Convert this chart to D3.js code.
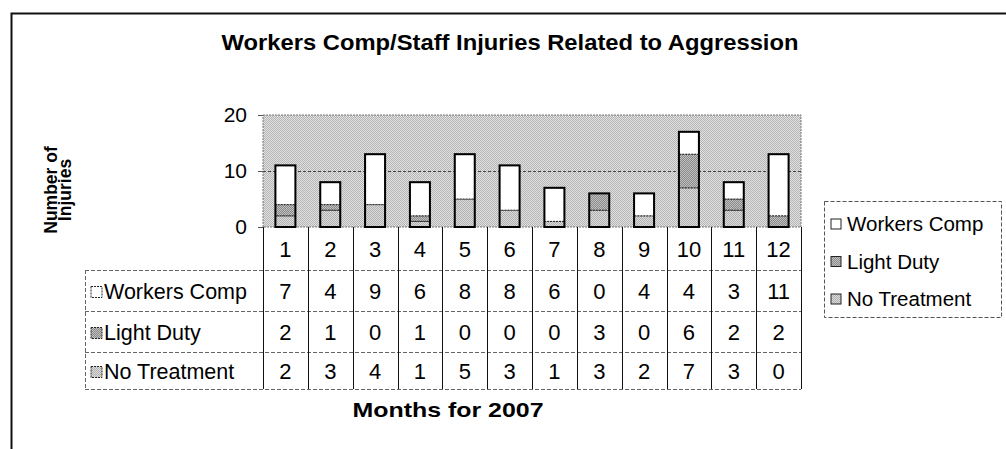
<!DOCTYPE html>
<html>
<head>
<meta charset="utf-8">
<script src="https://cdn.jsdelivr.net/npm/d3@7"></script>
<style>
body { margin: 0; background: #fff; }
svg { display: block; font-family: "Liberation Sans", Arial, sans-serif; }
</style>
</head>
<body>
<div id="chart"></div>
<script>
// data
var months = ["1", "2", "3", "4", "5", "6", "7", "8", "9", "10", "11", "12"];
var workersComp = [7, 4, 9, 6, 8, 8, 6, 0, 4, 4, 3, 11];
var lightDuty = [2, 1, 0, 1, 0, 0, 0, 3, 0, 6, 2, 2];
var noTreatment = [2, 3, 4, 1, 5, 3, 1, 3, 2, 7, 3, 0];
var seriesNames = ["Workers Comp", "Light Duty", "No Treatment"];
var yTicks = [0, 10, 20];

var W = 1006, H = 449;
var svg = d3.select("#chart").append("svg")
  .attr("width", W).attr("height", H);

// halftone-ish patterns
var defs = svg.append("defs");
function pat(id, a, b) {
  var p = defs.append("pattern").attr("id", id)
    .attr("width", 2).attr("height", 2)
    .attr("patternUnits", "userSpaceOnUse");
  p.append("rect").attr("width", 2).attr("height", 2).attr("fill", a);
  p.append("rect").attr("width", 1).attr("height", 1).attr("fill", b);
  p.append("rect").attr("x", 1).attr("y", 1).attr("width", 1).attr("height", 1).attr("fill", b);
}
pat("bgPat", "#e2e2e2", "#b4b4b4");
pat("ldPat", "#8a8a8a", "#c0c0c0");
pat("ntPat", "#dcdcdc", "#b0b0b0");
var fills = { "Workers Comp": "#ffffff", "Light Duty": "url(#ldPat)", "No Treatment": "url(#ntPat)" };

// outer frame
svg.append("path")
  .attr("d", "M11.5,449 L11.5,13.5 L1006,13.5")
  .attr("fill", "none").attr("stroke", "#111").attr("stroke-width", 2);

svg.append("text")
  .attr("x", 510).attr("y", 50)
  .attr("text-anchor", "middle")
  .attr("font-size", 22).attr("font-weight", "bold")
  .attr("textLength", 577).attr("lengthAdjust", "spacingAndGlyphs")
  .text("Workers Comp/Staff Injuries Related to Aggression");

var mrg = { left: 263, right: 801, top: 115, bottom: 227 };

var xScale = d3.scaleBand().domain(months)
  .range([mrg.left, mrg.right]).paddingInner(0).paddingOuter(0);
var yScale = d3.scaleLinear().domain([0, 20]).range([mrg.bottom, mrg.top]);

var chart = svg.append("g");

chart.append("rect")
  .attr("x", mrg.left).attr("y", mrg.top)
  .attr("width", mrg.right - mrg.left).attr("height", mrg.bottom - mrg.top)
  .attr("fill", "url(#bgPat)")
  .attr("stroke", "#777").attr("stroke-dasharray", "2,1");

// gridline at 10
chart.append("line")
  .attr("x1", mrg.left).attr("x2", mrg.right)
  .attr("y1", yScale(10) + 0.5).attr("y2", yScale(10) + 0.5)
  .attr("stroke", "#444").attr("stroke-dasharray", "3,2");

var y_axis = d3.axisLeft(yScale).tickValues(yTicks).tickSize(5).tickPadding(11);
var yg = chart.append("g")
  .attr("transform", "translate(" + mrg.left + ",0)")
  .call(y_axis);
yg.select(".domain").remove();
yg.selectAll("text").attr("font-size", 21).attr("fill", "#000").attr("font-family", "Liberation Sans, Arial, sans-serif");
yg.selectAll("line").attr("stroke", "#555");

// stacked bars
var rows = months.map(function (m, i) {
  return { month: m, "No Treatment": noTreatment[i], "Light Duty": lightDuty[i], "Workers Comp": workersComp[i] };
});
var stack = d3.stack().keys(["No Treatment", "Light Duty", "Workers Comp"]);
var layers = stack(rows);
var barW = 20;

layers.forEach(function (layer) {
  chart.append("g").selectAll("rect")
    .data(layer.filter(function (d) { return d[1] > d[0]; }))
    .enter().append("rect")
    .attr("x", function (d) { return xScale(d.data.month) + xScale.bandwidth() / 2 - barW / 2; })
    .attr("y", function (d) { return yScale(d[1]); })
    .attr("width", barW)
    .attr("height", function (d) { return yScale(d[0]) - yScale(d[1]); })
    .attr("fill", fills[layer.key])
    .attr("stroke", "#222").attr("stroke-width", 1).attr("stroke-dasharray", "2,1");
});
// bar outline
chart.append("g").selectAll("rect")
  .data(rows)
  .enter().append("rect")
  .attr("x", function (d) { return xScale(d.month) + xScale.bandwidth() / 2 - barW / 2; })
  .attr("y", function (d) { return yScale(d["No Treatment"] + d["Light Duty"] + d["Workers Comp"]); })
  .attr("width", barW)
  .attr("height", function (d) { return yScale(0) - yScale(d["No Treatment"] + d["Light Duty"] + d["Workers Comp"]); })
  .attr("fill", "none").attr("stroke", "#000").attr("stroke-width", 2);

// data table
var tLeft = 85;
var rowLines = [227, 270, 311, 352, 389];
var table = svg.append("g").attr("font-size", 22);

function rowMid(r) { return (rowLines[r] + rowLines[r + 1]) / 2; }

// month row
table.selectAll("text.month")
  .data(months).enter().append("text")
  .attr("class", "month")
  .attr("x", function (d) { return xScale(d) + xScale.bandwidth() / 2; })
  .attr("y", rowMid(0) + 8)
  .attr("text-anchor", "middle")
  .text(function (d) { return d; });

var seriesVals = [workersComp, lightDuty, noTreatment];
seriesNames.forEach(function (name, r) {
  var cy = rowMid(r + 1);
  table.append("line")
    .attr("x1", tLeft).attr("x2", mrg.right)
    .attr("y1", rowLines[r + 1] + 0.5).attr("y2", rowLines[r + 1] + 0.5)
    .attr("stroke", "#666").attr("stroke-dasharray", "4,2");
  table.append("rect")
    .attr("x", tLeft + 6).attr("y", cy - 4)
    .attr("width", 11).attr("height", 11)
    .attr("fill", fills[name]).attr("stroke", "#222").attr("stroke-dasharray", "2,1");
  table.append("text")
    .attr("x", tLeft + 19).attr("y", cy + 8)
    .attr("font-size", 21.5)
    .text(name);
  table.selectAll("text.v" + r)
    .data(seriesVals[r]).enter().append("text")
    .attr("x", function (d, i) { return xScale(months[i]) + xScale.bandwidth() / 2; })
    .attr("y", cy + 8)
    .attr("text-anchor", "middle")
    .text(function (d) { return d; });
});
var tBottom = rowLines[4];
table.append("line")
  .attr("x1", tLeft).attr("x2", mrg.right)
  .attr("y1", tBottom + 0.5).attr("y2", tBottom + 0.5)
  .attr("stroke", "#666").attr("stroke-dasharray", "4,2");
table.append("line")
  .attr("x1", tLeft + 0.5).attr("x2", tLeft + 0.5)
  .attr("y1", rowLines[1]).attr("y2", tBottom)
  .attr("stroke", "#666").attr("stroke-dasharray", "4,2");
// vertical column lines
var colEdges = months.map(function (m) { return xScale(m); }).concat([mrg.right]);
table.selectAll("line.col")
  .data(colEdges).enter().append("line")
  .attr("x1", function (d) { return Math.round(d) + 0.5; })
  .attr("x2", function (d) { return Math.round(d) + 0.5; })
  .attr("y1", rowLines[0]).attr("y2", tBottom)
  .attr("stroke", "#111");

// axis titles
svg.append("text")
  .attr("transform", "translate(57,190) rotate(-90)")
  .attr("text-anchor", "middle")
  .attr("font-size", 17.5).attr("font-weight", "bold")
  .selectAll("tspan").data(["Number of", "Injuries"]).enter().append("tspan")
  .attr("x", 0).attr("dy", function (d, i) { return i ? 14 : 0; })
  .text(function (d) { return d; });

svg.append("text")
  .attr("x", 448).attr("y", 417)
  .attr("text-anchor", "middle")
  .attr("font-size", 21).attr("font-weight", "bold")
  .attr("textLength", 191).attr("lengthAdjust", "spacingAndGlyphs")
  .text("Months for 2007");

// legend
var lg = svg.append("g").attr("font-size", 20.5);
lg.append("rect")
  .attr("x", 824.5).attr("y", 201.5).attr("width", 177).attr("height", 116)
  .attr("fill", "#fff").attr("stroke", "#555").attr("stroke-dasharray", "4,2");
seriesNames.forEach(function (name, i) {
  var cy = 223 + i * 37.5;
  lg.append("rect")
    .attr("x", 831).attr("y", cy - 4).attr("width", 10).attr("height", 10)
    .attr("fill", fills[name]).attr("stroke", "#222");
  lg.append("text").attr("x", 847).attr("y", cy + 8).text(name);
});
</script>
</body>
</html>
